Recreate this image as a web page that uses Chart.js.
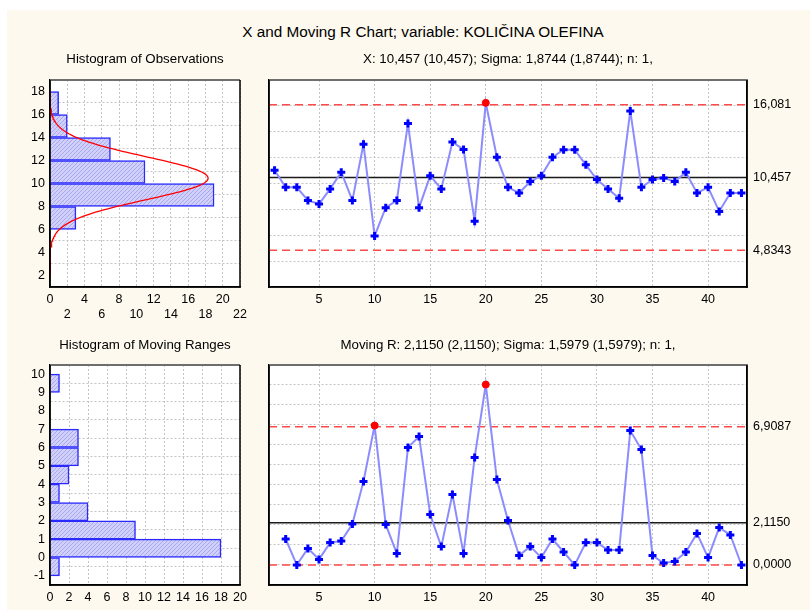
<!DOCTYPE html>
<html><head><meta charset="utf-8">
<script src="https://cdn.jsdelivr.net/npm/chart.js@4.4.1/dist/chart.umd.min.js"></script>
<style>
html,body{margin:0;padding:0;background:#fff;width:810px;height:613px;overflow:hidden;font-family:"Liberation Sans",Arial,sans-serif;}
#bg{position:absolute;left:7px;top:10px;width:803px;height:600px;background:#fef9ee;}
#title{position:absolute;left:0;top:23px;width:846px;text-align:center;font-size:15.3px;color:#000;white-space:nowrap;}
canvas{position:absolute;}
</style></head><body>
<div id="bg"></div>
<div id="title">X and Moving R Chart; variable: KOLIČINA OLEFINA</div>
<canvas id="c1" width="262" height="290" style="left:0;top:48px"></canvas>
<canvas id="c2" width="548" height="290" style="left:262px;top:48px"></canvas>
<canvas id="c3" width="262" height="281" style="left:0;top:332px"></canvas>
<canvas id="c4" width="548" height="281" style="left:262px;top:332px"></canvas>
<script>
// ---------- DATA ----------
const sampleNo = [1,2,3,4,5,6,7,8,9,10,11,12,13,14,15,16,17,18,19,20,21,22,23,24,25,26,27,28,29,30,31,32,33,34,35,36,37,38,39,40,41,42,43];
const xValues = [11.02,9.70,9.70,8.69,8.41,9.58,10.87,8.69,13.04,5.95,8.13,8.69,14.63,8.13,10.59,9.58,13.20,12.63,7.09,16.23,12.03,9.70,9.27,10.15,10.59,12.03,12.61,12.61,11.44,10.30,9.58,8.85,15.61,9.70,10.30,10.43,10.15,10.87,9.27,9.70,7.84,9.27,9.27];
const mrValues = [null,1.30,0.00,0.83,0.28,1.12,1.20,2.05,4.18,6.97,2.03,0.57,5.87,6.42,2.52,0.92,3.53,0.57,5.38,9.02,4.27,2.22,0.47,0.93,0.37,1.30,0.65,0.00,1.12,1.12,0.75,0.75,6.72,5.77,0.47,0.10,0.18,0.65,1.58,0.37,1.87,1.50,0.00];

const xLimits = [4.8343, 10.457, 16.081];        // LCL, CL, UCL
const xLimitLabels = ['4,8343','10,457','16,081'];
const mrLimits = [0, 2.115, 6.9087];
const mrLimitLabels = ['0,0000','2,1150','6,9087'];
const xMean = 10.457, xSigma = 1.8744, nObs = 43;

const obsBinCenters = [3,5,7,9,11,13,15,17];
const obsBinCounts  = [0,0,3,19,11,7,2,1];
const obsBinWidth = 2;
const mrBinCenters = [-0.5,0.5,1.5,2.5,3.5,4.5,5.5,6.5,7.5,8.5,9.5];
const mrBinCounts  = [1,18,9,4,1,2,3,3,0,0,1];

const sampleTicks = [5,10,15,20,25,30,35,40];

const titleMain = 'X and Moving R Chart; variable: KOLIČINA OLEFINA';
const titleHistObs = 'Histogram of Observations';
const titleX = 'X: 10,457 (10,457); Sigma: 1,8744 (1,8744); n: 1,';
const titleHistMR = 'Histogram of Moving Ranges';
const titleMR = 'Moving R: 2,1150 (2,1150); Sigma: 1,5979 (1,5979); n: 1,';

// ---------- STYLE ----------
Chart.defaults.font.family = '"Liberation Sans", Arial, sans-serif';
Chart.defaults.font.size = 12.5;
Chart.defaults.color = '#000';

const GRID = '#c4c4c4';
function makeHatch(){
  const p=document.createElement('canvas'); p.width=4; p.height=4;
  const g=p.getContext('2d');
  g.fillStyle='#d0d0fa'; g.fillRect(0,0,4,4);
  g.fillStyle='#a8a8ee';
  for(let i=0;i<4;i++){ g.fillRect(i,3-i,1,1); }
  return g.createPattern(p,'repeat');
}
const hatch = makeHatch();

const framePlugin = {
  id:'frame',
  beforeDraw(chart){
    const a=chart.chartArea, c=chart.ctx;
    c.save(); c.fillStyle='#fff'; c.fillRect(a.left,a.top,a.width,a.height); c.restore();
  },
  afterDraw(chart){
    const a=chart.chartArea, c=chart.ctx;
    c.save();
    c.lineWidth=2; c.strokeStyle='#6e6e6e';
    c.beginPath(); c.moveTo(a.left,a.top); c.lineTo(a.right,a.top); c.stroke();
    c.lineWidth=1.5; c.strokeStyle='#000';
    c.beginPath(); c.moveTo(a.left,a.top); c.lineTo(a.left,a.bottom); c.lineTo(a.right,a.bottom); c.lineTo(a.right,a.top); c.stroke();
    c.restore();
  }
};

function titleOpts(text, top, bottom){
  return {display:true, text, fullSize:false, padding:{top, bottom}, font:{size:13.3, weight:'normal', lineHeight:1.2}, color:'#000'};
}

// ---------- HISTOGRAM OF OBSERVATIONS ----------
// fitted normal curve (expected counts per bin) from the mean and sigma printed on the chart
const normalCurve = [];
for (let y = 2; y <= 18.0001; y += 0.1) {
  const z = (y - xMean) / xSigma;
  normalCurve.push({x: nObs * obsBinWidth * Math.exp(-0.5*z*z) / (xSigma*Math.sqrt(2*Math.PI)), y});
}

function histChart(id, centers, counts, curve, title, tPad, xMax, yMin, yMax, yStep, xAxisH, twoRow){
  const ds = [{
    type:'bar', data: centers.map((c,i)=>({x:counts[i], y:c})),
    backgroundColor: hatch, borderColor:'#2a2aff', borderWidth:1.5, borderSkipped:'start',
    barPercentage:1, categoryPercentage:1, order:2
  }];
  if (curve) ds.push({type:'line', data:curve, indexAxis:'y', borderColor:'#ff0000', borderWidth:1.3, pointRadius:0, tension:0, order:1});
  return new Chart(document.getElementById(id), {
    type:'bar',
    data:{datasets:ds},
    options:{
      indexAxis:'y', responsive:false, animation:false,
      layout:{padding:{left:0,right:22,top:0,bottom:0}},
      plugins:{legend:{display:false}, tooltip:{enabled:false}, title:titleOpts(title, tPad[0], tPad[1])},
      scales:{
        x:{type:'linear', min:0, max:xMax,
           ticks:{stepSize:2, autoSkip:false, maxRotation:0, padding:5,
             callback:(v)=> twoRow ? (v%4===0 ? String(v) : ['', String(v)]) : String(v)},
           grid:{color:GRID, drawTicks:false}, border:{dash:[2,2], color:'#000', width:1.5},
           afterFit(s){ s.height = xAxisH; }},
        y:{type:'linear', min:yMin, max:yMax,
           ticks:{stepSize:yStep, padding:5},
           grid:{color:GRID, drawTicks:false}, border:{dash:[2,2], color:'#000', width:1.5},
           afterFit(s){ s.width = 50; }}
      }
    },
    plugins:[framePlugin]
  });
}

histChart('c1', obsBinCenters, obsBinCounts, normalCurve, titleHistObs, [3,13], 22, 2, 18, 2, 51, true);
histChart('c3', mrBinCenters, mrBinCounts, null, titleHistMR, [5,12], 20, -1, 10, 1, 28, false);

// ---------- CONTROL CHARTS ----------
function controlChart(id, values, limits, limitLabels, title, tPad, yMin, yMax, yStep, xAxisH){
  const xMin = 0.5, xMax = 43.5;
  const ucl = limits[2];
  const limitDs = (v, color, dash) => ({type:'line', data:[{x:xMin,y:v},{x:xMax,y:v}], borderColor:color, borderWidth:1.4, borderDash:dash, pointRadius:0, order:2});
  return new Chart(document.getElementById(id), {
    type:'line',
    data:{datasets:[
      limitDs(limits[2], '#ff4a4a', [8,5]),
      limitDs(limits[0], '#ff4a4a', [8,5]),
      limitDs(limits[1], '#1a1a1a', []),
      {type:'line', data: sampleNo.map((n,i)=>({x:n, y:values[i]})),
       borderColor:'#8c8cff', borderWidth:2, tension:0, spanGaps:false, order:1,
       pointStyle: ctx => (ctx.raw && ctx.raw.y > ucl) ? 'circle' : 'cross',
       pointRadius: ctx => (ctx.raw && ctx.raw.y > ucl) ? 3.5 : 4,
       pointBorderWidth: ctx => (ctx.raw && ctx.raw.y > ucl) ? 1 : 3,
       pointBorderColor: ctx => (ctx.raw && ctx.raw.y > ucl) ? '#ff0000' : '#0000ff',
       pointBackgroundColor: ctx => (ctx.raw && ctx.raw.y > ucl) ? '#ff0000' : '#0000ff'}
    ]},
    options:{
      responsive:false, animation:false,
      layout:{padding:{left:0,right:0,top:0,bottom:0}},
      plugins:{legend:{display:false}, tooltip:{enabled:false}, title:titleOpts(title, tPad[0], tPad[1])},
      scales:{
        x:{type:'linear', min:xMin, max:xMax,
           afterBuildTicks(s){ s.ticks = sampleTicks.map(v=>({value:v})); },
           ticks:{autoSkip:false, maxRotation:0, padding:5},
           grid:{color:GRID, drawTicks:false}, border:{dash:[2,2], color:'#000', width:1.5},
           afterFit(s){ s.height = xAxisH; }},
        y:{type:'linear', min:yMin, max:yMax,
           ticks:{stepSize:yStep, display:false},
           grid:{color:GRID, drawTicks:false}, border:{dash:[2,2], color:'#000', width:1.5},
           afterFit(s){ s.width = 5; }},
        y2:{type:'linear', position:'right', min:yMin, max:yMax,
           afterBuildTicks(s){ s.ticks = limits.map(v=>({value:v})); },
           ticks:{padding:6, callback:(v,i)=>limitLabels[i]},
           grid:{drawOnChartArea:false, drawTicks:false}, border:{color:'#000', width:1.5},
           afterFit(s){ s.width = 63; }}
      }
    },
    plugins:[framePlugin]
  });
}

controlChart('c2', xValues, xLimits, xLimitLabels, titleX, [3,13], 2, 18, 2, 51);
controlChart('c4', mrValues, mrLimits, mrLimitLabels, titleMR, [5,12], -1, 10, 1, 28);
</script>
</body></html>
